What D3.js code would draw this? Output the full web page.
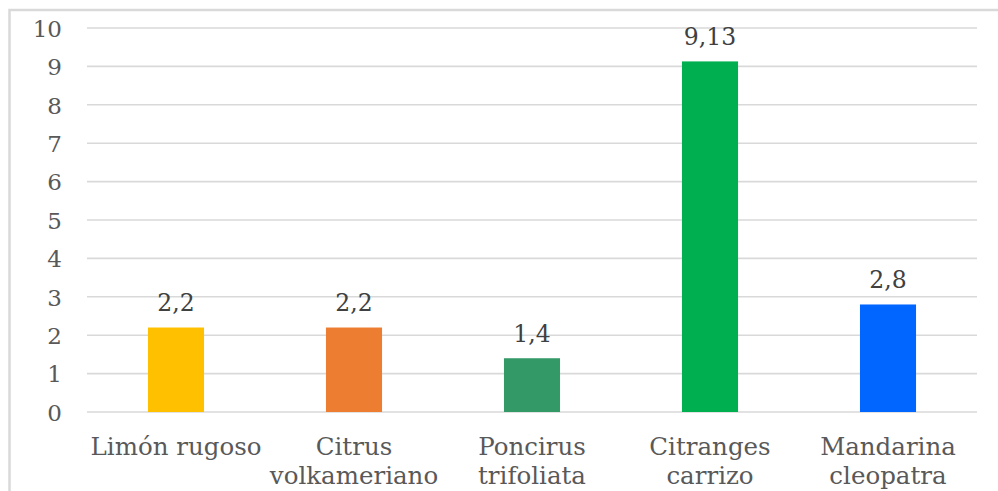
<!DOCTYPE html>
<html>
<head>
<meta charset="utf-8">
<script src="https://cdn.jsdelivr.net/npm/d3@7"></script>
<style>
  html, body { margin: 0; padding: 0; background: #ffffff; }
  svg { display: block; }
</style>
</head>
<body>
<div id="chart"></div>
<script>
// Rootstock categories (two-line labels) and their values
const categories = ["Limón rugoso", "Citrus volkameriano", "Poncirus trifoliata", "Citranges carrizo", "Mandarina cleopatra"];
const categoryLines = [["Limón rugoso"], ["Citrus", "volkameriano"], ["Poncirus", "trifoliata"], ["Citranges", "carrizo"], ["Mandarina", "cleopatra"]];
const values = [2.2, 2.2, 1.4, 9.13, 2.8];
const valueLabels = ["2,2", "2,2", "1,4", "9,13", "2,8"];
const barColors = ["#FFC000", "#ED7D31", "#339966", "#00B050", "#0066FF"];
const yTicks = [0, 1, 2, 3, 4, 5, 6, 7, 8, 9, 10];

const W = 998, H = 491;
const plot = { left: 87, right: 977, top: 28, bottom: 412 };
const serif = "'DejaVu Serif', serif";

const svg = d3.select("#chart").append("svg")
  .attr("width", W).attr("height", H);

// Outer frame
svg.append("rect")
  .attr("x", 9.5).attr("y", 10)
  .attr("width", 1000).attr("height", 500)
  .attr("fill", "none")
  .attr("stroke", "#d9d9d9")
  .attr("stroke-width", 2.5);

const x = d3.scaleBand()
  .domain(categories)
  .range([plot.left, plot.right])
  .padding(0);

const y = d3.scaleLinear()
  .domain([0, 10])
  .range([plot.bottom, plot.top]);

const barWidth = x.bandwidth() * 0.315;

// Horizontal gridlines
svg.append("g")
  .selectAll("line")
  .data(yTicks)
  .join("line")
  .attr("x1", plot.left).attr("x2", plot.right)
  .attr("y1", d => y(d)).attr("y2", d => y(d))
  .attr("stroke", "#d9d9d9")
  .attr("stroke-width", 1.6);

// Y axis labels
const yAxis = d3.axisLeft(y).tickValues(yTicks).tickSize(0).tickPadding(0)
  .tickFormat(d => String(d));
const yg = svg.append("g")
  .attr("transform", `translate(62,0)`)
  .call(yAxis);
yg.select(".domain").remove();
yg.selectAll("text")
  .attr("font-family", serif)
  .attr("font-size", 23)
  .attr("fill", "#595959")
  .attr("dy", "0.36em");

// Bars
svg.append("g")
  .selectAll("rect")
  .data(categories)
  .join("rect")
  .attr("x", (d) => x(d) + (x.bandwidth() - barWidth) / 2)
  .attr("width", barWidth)
  .attr("y", (d, i) => y(values[i]))
  .attr("height", (d, i) => y(0) - y(values[i]))
  .attr("fill", (d, i) => barColors[i]);

// Value labels above bars
svg.append("g")
  .selectAll("text")
  .data(categories)
  .join("text")
  .attr("x", d => x(d) + x.bandwidth() / 2)
  .attr("y", (d, i) => y(values[i]) - 16.5)
  .attr("text-anchor", "middle")
  .attr("font-family", serif)
  .attr("font-size", 23.5)
  .attr("fill", "#404040")
  .text((d, i) => valueLabels[i]);

// Category labels
const catG = svg.append("g")
  .selectAll("text")
  .data(categories)
  .join("text")
  .attr("text-anchor", "middle")
  .attr("font-family", serif)
  .attr("font-size", 24.5)
  .attr("fill", "#595959");
catG.each(function(d, i) {
  const t = d3.select(this);
  categoryLines[i].forEach((line, j) => {
    t.append("tspan")
      .attr("x", x(d) + x.bandwidth() / 2)
      .attr("y", 455 + j * 28.5)
      .text(line);
  });
});
</script>
</body>
</html>
